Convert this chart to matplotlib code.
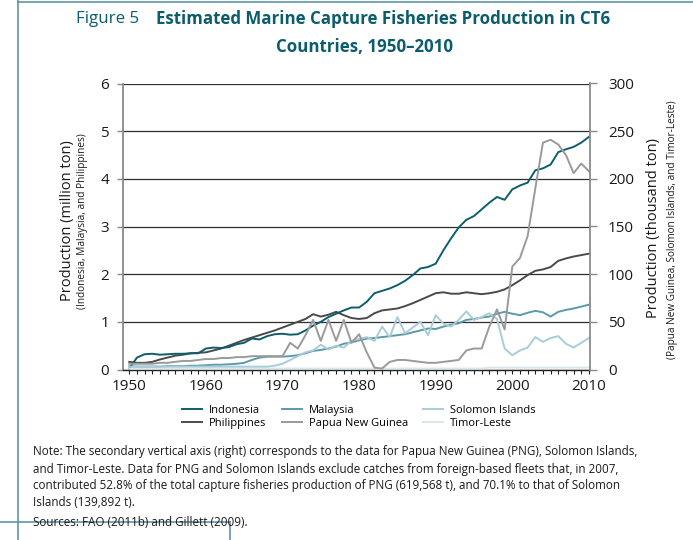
import matplotlib
matplotlib.use("Agg")
import matplotlib.pyplot as plt
from matplotlib.lines import Line2D
from matplotlib.ticker import MultipleLocator

# Marine capture production, 1950-2010
years = list(range(1950, 2011))

# million tonnes (left axis)
indonesia = [0.02, 0.25, 0.32, 0.33, 0.31, 0.32, 0.33, 0.33, 0.34, 0.34,
             0.44, 0.46, 0.45, 0.47, 0.53, 0.56, 0.65, 0.63, 0.70, 0.74,
             0.75, 0.73, 0.74, 0.82, 0.92, 1.00, 1.10, 1.17, 1.24, 1.30,
             1.30, 1.42, 1.60, 1.65, 1.70, 1.77, 1.86, 1.98, 2.12, 2.15,
             2.22, 2.50, 2.75, 2.98, 3.14, 3.22, 3.36, 3.50, 3.62, 3.56,
             3.78, 3.86, 3.92, 4.18, 4.22, 4.30, 4.56, 4.62, 4.67, 4.76,
             4.88]
philippines = [0.16, 0.14, 0.14, 0.16, 0.21, 0.25, 0.29, 0.31, 0.34, 0.35,
               0.36, 0.40, 0.44, 0.50, 0.56, 0.62, 0.67, 0.72, 0.77, 0.82,
               0.88, 0.94, 1.00, 1.06, 1.16, 1.11, 1.15, 1.21, 1.14, 1.08,
               1.06, 1.08, 1.18, 1.24, 1.26, 1.28, 1.33, 1.39, 1.46, 1.53,
               1.60, 1.62, 1.59, 1.59, 1.62, 1.60, 1.58, 1.60, 1.63, 1.68,
               1.77, 1.87, 1.98, 2.07, 2.10, 2.15, 2.28, 2.33, 2.37, 2.40,
               2.43]
malaysia = [0.07, 0.06, 0.06, 0.06, 0.06, 0.07, 0.07, 0.07, 0.08, 0.08,
            0.09, 0.10, 0.10, 0.11, 0.12, 0.14, 0.20, 0.25, 0.27, 0.27,
            0.27, 0.28, 0.30, 0.34, 0.39, 0.41, 0.44, 0.48, 0.54, 0.57,
            0.61, 0.65, 0.66, 0.68, 0.70, 0.72, 0.74, 0.78, 0.82, 0.86,
            0.85, 0.90, 0.94, 0.97, 1.04, 1.06, 1.09, 1.11, 1.17, 1.21,
            1.17, 1.14, 1.19, 1.23, 1.20, 1.11, 1.21, 1.25, 1.28, 1.32,
            1.36]

# thousand tonnes (right axis)
png = [6, 6, 6, 6, 7, 7, 8, 9, 9, 10,
       11, 11, 12, 12, 13, 13, 14, 14, 14, 14,
       14, 28, 22, 36, 52, 30, 52, 30, 52, 28,
       37, 18, 2, 1, 8, 10, 10, 9, 8, 7,
       7, 8, 9, 10, 20, 22, 22, 45, 63, 42,
       108, 117, 140, 190, 238, 241, 236, 225, 206, 216,
       208]
solomon = [3, 3, 3, 3, 3, 3, 3, 3, 3, 3,
           3, 3, 3, 3, 3, 3, 3, 3, 3, 4,
           6, 10, 14, 18, 20, 26, 21, 25, 23, 30,
           32, 34, 30, 45, 34, 55, 38, 44, 50, 36,
           57, 48, 45, 52, 61, 52, 55, 59, 53, 22,
           15, 20, 23, 34, 29, 33, 35, 27, 23, 28,
           33]
timor = [1, 1, 1, 1, 1, 1, 1, 1, 1, 1,
         1, 1, 1, 1, 1, 1, 1, 1, 1, 1,
         1, 1, 1, 1, 1, 1, 1, 1, 1, 1,
         1, 1, 1, 1, 1, 1, 1, 1, 1, 1,
         1, 1, 1, 1, 1, 1, 1, 2, 2, 2,
         2, 2, 2, 2, 2, 2, 2, 2, 2, 2,
         2]

TEAL = "#0b5c6c"
C_IDN = "#0e5d6d"
C_PHL = "#4a4a4a"
C_MYS = "#5b9aa9"
C_PNG = "#9a9a9a"
C_SLB = "#a8cdd8"
C_TLS = "#d9e6ea"
FRAME = "#5f97a5"

plt.rcParams["font.family"] = ["Open Sans", "DejaVu Sans"]

W, H = 693, 540
fig = plt.figure(figsize=(W / 100, H / 100), dpi=100)


def fx(px):
    return px / W


def fy(py):
    return 1 - py / H


ax = fig.add_axes([fx(123.3), fy(369.5), fx(590) - fx(123.3), fy(83.5) - fy(369.5)])
ax2 = ax.twinx()

lw = 1.4
l1, = ax.plot(years, indonesia, color=C_IDN, lw=lw, label="Indonesia", zorder=5)
l2, = ax.plot(years, philippines, color=C_PHL, lw=lw, label="Philippines", zorder=4)
l3, = ax.plot(years, malaysia, color=C_MYS, lw=lw, label="Malaysia", zorder=4)
l6, = ax2.plot(years, timor, color=C_TLS, lw=lw, label="Timor-Leste")
l5, = ax2.plot(years, solomon, color=C_SLB, lw=lw, label="Solomon Islands")
l4, = ax2.plot(years, png, color=C_PNG, lw=lw, label="Papua New Guinea")

ax.set_xlim(1949.22, 2010.14)
ax.set_ylim(0, 6)
ax2.set_ylim(0, 300)
ax.set_yticks(range(0, 7))
ax2.set_yticks(range(0, 301, 50))
ax.xaxis.set_major_locator(MultipleLocator(10))
ax.xaxis.set_minor_locator(MultipleLocator(1))
ax.yaxis.grid(True, color="#2e2e2e", lw=0.9)
ax.set_axisbelow(True)

for s in ["top", "right"]:
    ax.spines[s].set_visible(False)
for s in ["top", "left", "bottom"]:
    ax2.spines[s].set_visible(False)
ax.spines["left"].set_color("#8a8a8a")
ax.spines["left"].set_linewidth(1.3)
ax2.spines["right"].set_color("#8a8a8a")
ax2.spines["right"].set_linewidth(1.3)
ax.spines["bottom"].set_color("#222222")
ax.spines["bottom"].set_linewidth(1.0)

ax.tick_params(axis="y", direction="out", length=4.3, width=1.0, color="#8a8a8a",
               labelsize=11, pad=6, labelcolor="#1a1a1a")
ax2.tick_params(axis="y", direction="out", length=5, width=1.0, color="#8a8a8a",
                labelsize=11, pad=8, labelcolor="#1a1a1a")
ax.tick_params(axis="x", which="both", direction="out", length=3.2, width=0.8,
               color="#222222", labelsize=11, pad=4, labelcolor="#1a1a1a")

# axis titles
fig.text(fx(68), fy(221), "Production (million ton)", rotation=90,
         ha="center", va="center", fontsize=10.5, color="#1a1a1a")
fig.text(fx(83), fy(221), "(Indonesia, Malaysia, and Philippines)", rotation=90,
         ha="center", va="center", fontsize=7.2, color="#1a1a1a")
fig.text(fx(654), fy(228), "Production (thousand ton)", rotation=90,
         ha="center", va="center", fontsize=10.5, color="#1a1a1a")
fig.text(fx(672), fy(230), "(Papua New Guinea, Solomon Islands, and Timor-Leste)",
         rotation=90, ha="center", va="center", fontsize=7.2, color="#1a1a1a")

# title
fig.text(fx(76), fy(19), "Figure 5", ha="left", va="center", fontsize=12.2, color=TEAL)
fig.text(fx(156), fy(19), "Estimated Marine Capture Fisheries Production in CT6",
         ha="left", va="center", fontsize=12.2, fontweight="bold", color=TEAL)
fig.text(fx(365), fy(47), "Countries, 1950\u20132010", ha="center", va="center",
         fontsize=12.2, fontweight="bold", color=TEAL)

fig.legend(handles=[l1, l2, l3, l4, l5, l6], ncol=3, loc="center",
           bbox_to_anchor=(fx(359), fy(417)), frameon=False, fontsize=8,
           handlelength=1.8, handletextpad=0.6, columnspacing=1.4,
           labelspacing=0.15, borderpad=0)

notes = [
    "Note: The secondary vertical axis (right) corresponds to the data for Papua New Guinea (PNG), Solomon Islands,",
    "and Timor-Leste. Data for PNG and Solomon Islands exclude catches from foreign-based fleets that, in 2007,",
    "contributed 52.8% of the total capture fisheries production of PNG (619,568 t), and 70.1% to that of Solomon",
    "Islands (139,892 t).",
]
for i, line in enumerate(notes):
    fig.text(fx(33), fy(452 + 17 * i), line, ha="left", va="center",
             fontsize=8.35, color="#1a1a1a")
fig.text(fx(33), fy(522), "Sources: FAO (2011b) and Gillett (2009).", ha="left",
         va="center", fontsize=8.35, color="#1a1a1a")

# page frame
frame_kw = dict(transform=fig.transFigure, color=FRAME, lw=1.2)
fig.add_artist(Line2D([fx(18), fx(18)], [0, 1], **frame_kw))
fig.add_artist(Line2D([fx(18), 1], [fy(2), fy(2)], **frame_kw))
fig.add_artist(Line2D([0, fx(230)], [fy(522), fy(522)], **frame_kw))
fig.add_artist(Line2D([fx(230), fx(230)], [fy(522), 0], **frame_kw))

fig.savefig("out.png", dpi=100)
